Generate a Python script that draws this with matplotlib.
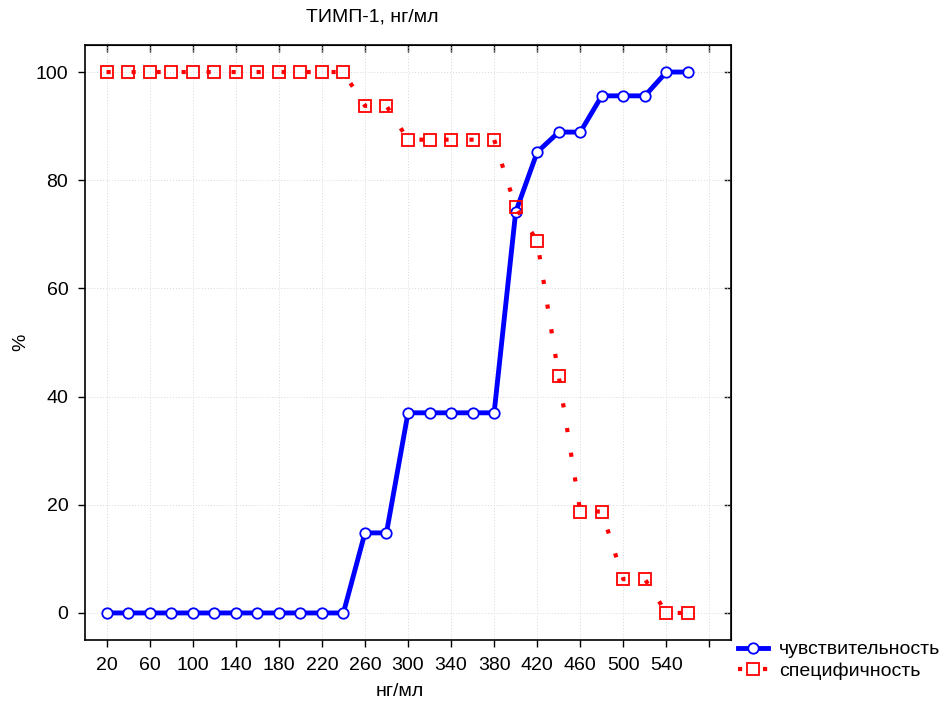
import numpy as np
import matplotlib
matplotlib.use('Agg')
import matplotlib.pyplot as plt

plt.rcParams['font.family'] = ['Liberation Sans', 'DejaVu Sans']

# пороговые значения ТИМП-1, нг/мл
threshold = [20, 40, 60, 80, 100, 120, 140, 160, 180, 200, 220, 240,
             260, 280, 300, 320, 340, 360, 380, 400, 420, 440, 460,
             480, 500, 520, 540, 560]
# чувствительность, %
sens = [0, 0, 0, 0, 0, 0, 0, 0, 0, 0, 0, 0,
        14.8, 14.8, 37.0, 37.0, 37.0, 37.0, 37.0, 74.1, 85.2, 88.9, 88.9,
        95.6, 95.6, 95.6, 100, 100]
# специфичность, %
spec = [100, 100, 100, 100, 100, 100, 100, 100, 100, 100, 100, 100,
        93.75, 93.75, 87.5, 87.5, 87.5, 87.5, 87.5, 75.0, 68.75, 43.75, 18.75,
        18.75, 6.25, 6.25, 0, 0]

xticks = list(range(20, 581, 40))
xlabels = [str(v) for v in range(20, 541, 40)] + ['']
yticks = [0, 20, 40, 60, 80, 100]

fs = 14

fig = plt.figure(figsize=(9.52, 7.06), dpi=100)
ax = fig.add_axes([85 / 952, 66 / 706, 646 / 952, 595 / 706])

ax.plot(threshold, sens, color='#0000ff', lw=3.5, marker='o', ms=7.5,
        mfc='white', mec='#0000ff', mew=1.3, label='чувствительность',
        zorder=3)
ax.plot(threshold, spec, color='#ff0000', lw=3, linestyle=(0, (1, 5)),
        dash_capstyle='butt', marker='s', ms=9, mfc='none', mec='#ff0000',
        mew=1.3, label='специфичность', zorder=4)

ax.set_xlim(0, 600)
ax.set_ylim(-5, 105)
ax.set_xticks(xticks)
ax.set_xticklabels(xlabels)
ax.set_yticks(yticks)
ax.grid(True, color='#d8d8d8', linestyle=(0, (1, 2)), lw=0.7)
ax.tick_params(direction='out', length=5, width=1, labelsize=fs, pad=7)
for s in ax.spines.values():
    s.set_linewidth(1.2)

# зеркальные засечки сверху и справа
top = ax.secondary_xaxis('top')
top.set_xticks(xticks)
top.tick_params(direction='in', length=5, width=1, labeltop=False)
right = ax.secondary_yaxis('right')
right.set_yticks(yticks)
right.tick_params(direction='in', length=5, width=1, labelright=False)

ax.set_xlabel('нг/мл', fontsize=fs, va='center')
ax.xaxis.set_label_coords(0.488, -0.087)
ax.set_ylabel('%', fontsize=fs, va='center')
ax.yaxis.set_label_coords(-0.1, 0.5)
fig.text(372 / 952, 1 - 17 / 706, 'ТИМП-1, нг/мл', fontsize=fs, ha='center',
         va='center')

fig.legend(loc='upper left', bbox_to_anchor=(730 / 952, 1 - 633 / 706),
           frameon=False, fontsize=fs, handlelength=1.55, handletextpad=0.57,
           borderaxespad=0, labelspacing=0.2)

fig.savefig('out.png', dpi=100)
